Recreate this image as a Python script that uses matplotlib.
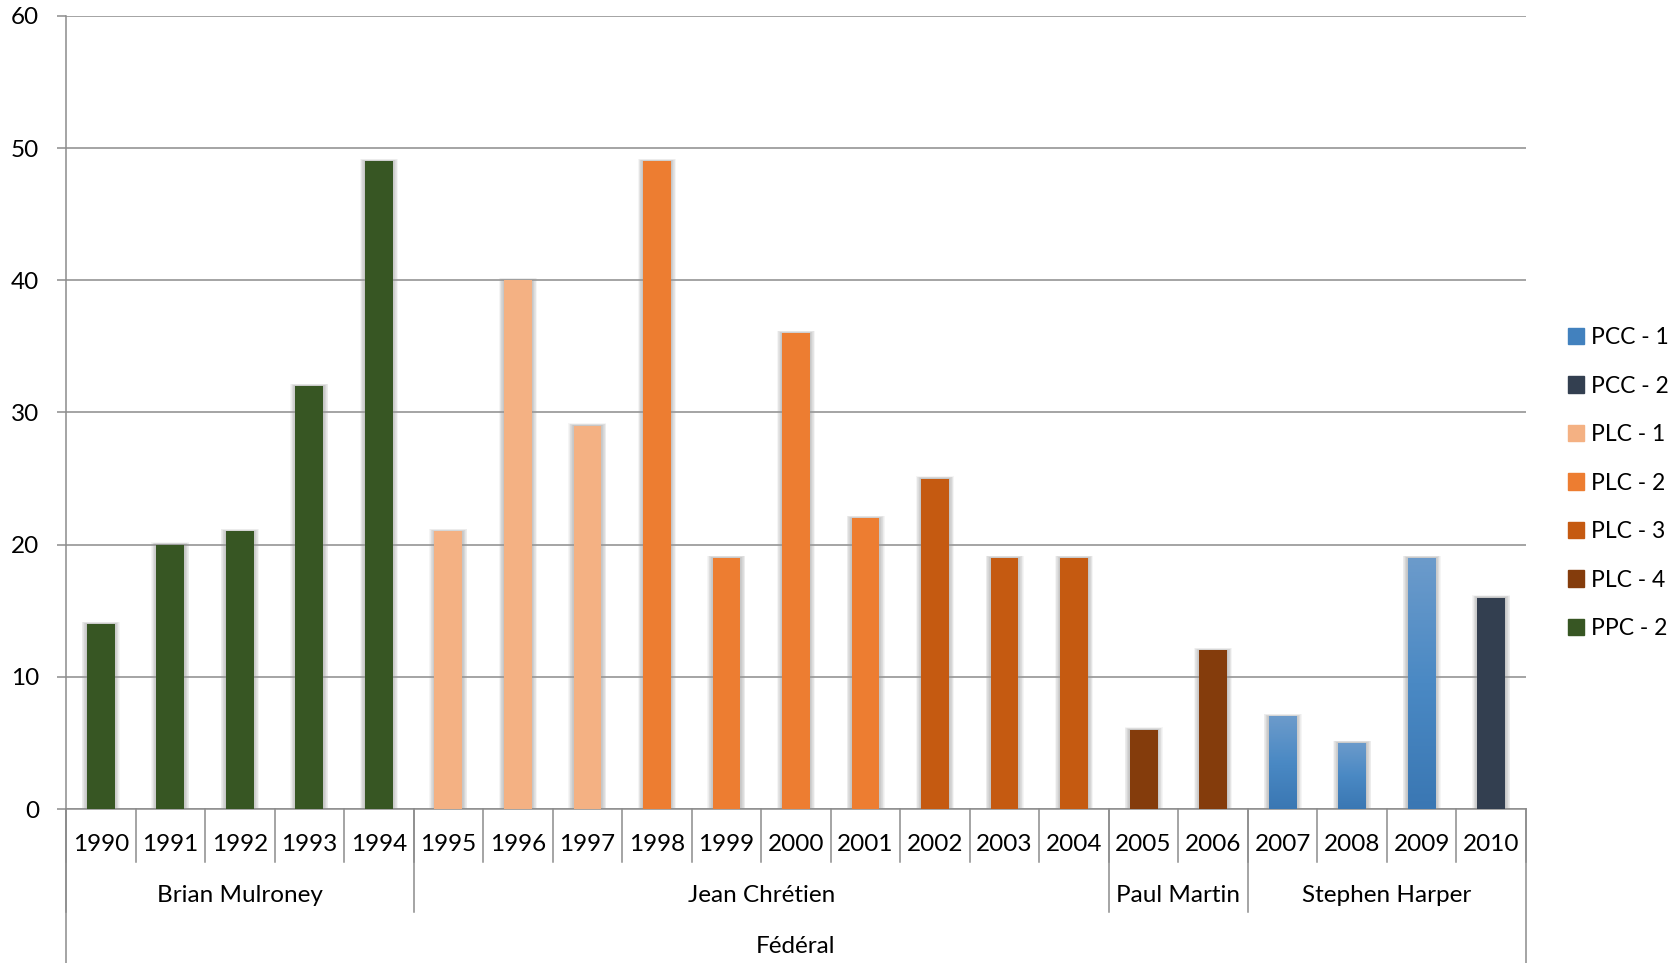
import matplotlib
matplotlib.use('Agg')
import matplotlib.pyplot as plt
import matplotlib.patches as mpatches
import numpy as np

plt.rcParams['font.family'] = ['Lato', 'DejaVu Sans']

# yearly counts, federal government
years = ['1990', '1991', '1992', '1993', '1994', '1995', '1996', '1997', '1998', '1999', '2000',
         '2001', '2002', '2003', '2004', '2005', '2006', '2007', '2008', '2009', '2010']
values = [14, 20, 21, 32, 49, 21, 40, 29, 49, 19, 36, 22, 25, 19, 19, 6, 12, 7, 5, 19, 16]
series = ['PPC - 2'] * 5 + ['PLC - 1'] * 3 + ['PLC - 2'] * 4 + ['PLC - 3'] * 3 + \
         ['PLC - 4'] * 2 + ['PCC - 1'] * 3 + ['PCC - 2']

leaders = ['Brian Mulroney', 'Jean Chrétien', 'Paul Martin', 'Stephen Harper']
leader_span = [(0, 4), (5, 14), (15, 16), (17, 20)]
level = 'Fédéral'

legend_order = ['PCC - 1', 'PCC - 2', 'PLC - 1', 'PLC - 2', 'PLC - 3', 'PLC - 4', 'PPC - 2']
colors = {
    'PCC - 1': '#4281BE',
    'PCC - 2': '#333F50',
    'PLC - 1': '#F4B183',
    'PLC - 2': '#ED7D31',
    'PLC - 3': '#C55A11',
    'PLC - 4': '#843C0C',
    'PPC - 2': '#375623',
}

W, H = 1675, 963
fig = plt.figure(figsize=(W / 100, H / 100), dpi=100)
left, right, top, bottom = 66, 1526, 16, 809
ax = fig.add_axes([left / W, (H - bottom) / H, (right - left) / W, (bottom - top) / H])

x = np.arange(len(years))
bw = 0.40

# soft grey halo behind each bar, built from stacked translucent bars
for k in range(8):
    grow = 0.02 + 0.018 * k
    ax.bar(x, np.array(values) + grow * 1.2, width=bw + grow, color='#9a9a9a', alpha=0.09,
           zorder=2, linewidth=0)

bars = ax.bar(x, values, width=bw, color=[colors[s] for s in series], zorder=3, linewidth=0)

# PCC - 1 bars get a vertical gradient
grad = np.linspace(0, 1, 256).reshape(-1, 1)
cmap = matplotlib.colors.LinearSegmentedColormap.from_list('pcc', ['#3A77B3', '#4A89C4', '#6C9BCB'])
for b, s in zip(bars, series):
    if s == 'PCC - 1':
        x0, w, h = b.get_x(), b.get_width(), b.get_height()
        im = ax.imshow(grad, extent=[x0, x0 + w, 0, h], origin='lower', aspect='auto',
                       cmap=cmap, zorder=4)
        im.set_clip_path(b)

ax.set_xlim(-0.5, len(years) - 0.5)
ax.set_ylim(0, 60)
ax.set_yticks(range(0, 61, 10))
ax.yaxis.grid(True, color='#8c8c8c', linewidth=1.1, zorder=1)
ax.set_axisbelow(True)
ax.set_xticks([])
ax.tick_params(axis='y', length=6.5, width=1.1, color='#8c8c8c', pad=13, labelsize=17.5)
for sp in ['top', 'right']:
    ax.spines[sp].set_visible(False)
for sp in ['left', 'bottom']:
    ax.spines[sp].set_color('#8c8c8c')
    ax.spines[sp].set_linewidth(1.1)

# multi-level category axis below the plot
ph = bottom - top
trans = ax.get_xaxis_transform()
line_kw = dict(color='#8c8c8c', linewidth=1.1, transform=trans, clip_on=False)
for i in range(len(years) + 1):
    ax.plot([i - 0.5, i - 0.5], [0, -53 / ph], **line_kw)
for a, b in leader_span:
    ax.plot([a - 0.5, a - 0.5], [0, -103 / ph], **line_kw)
for xe in [-0.5, len(years) - 0.5]:
    ax.plot([xe, xe], [0, -160 / ph], **line_kw)

for i, yr in enumerate(years):
    ax.text(i, -35 / ph, yr, transform=trans, ha='center', va='center', fontsize=17.5)
for name, (a, b) in zip(leaders, leader_span):
    ax.text((a + b) / 2, -86 / ph, name, transform=trans, ha='center', va='center', fontsize=17.5)
ax.text((len(years) - 1) / 2, -137 / ph, level, transform=trans, ha='center', va='center',
        fontsize=17.5)

handles = [mpatches.Patch(color=colors[s], label=s) for s in legend_order]
fig.legend(handles=handles, loc='center left', bbox_to_anchor=(1568 / W, (H - 483) / H),
           frameon=False, fontsize=16.5, handlelength=0.7, handleheight=0.7,
           handletextpad=0.3, labelspacing=1.2, borderpad=0, borderaxespad=0)

fig.savefig('out.png', dpi=100)
